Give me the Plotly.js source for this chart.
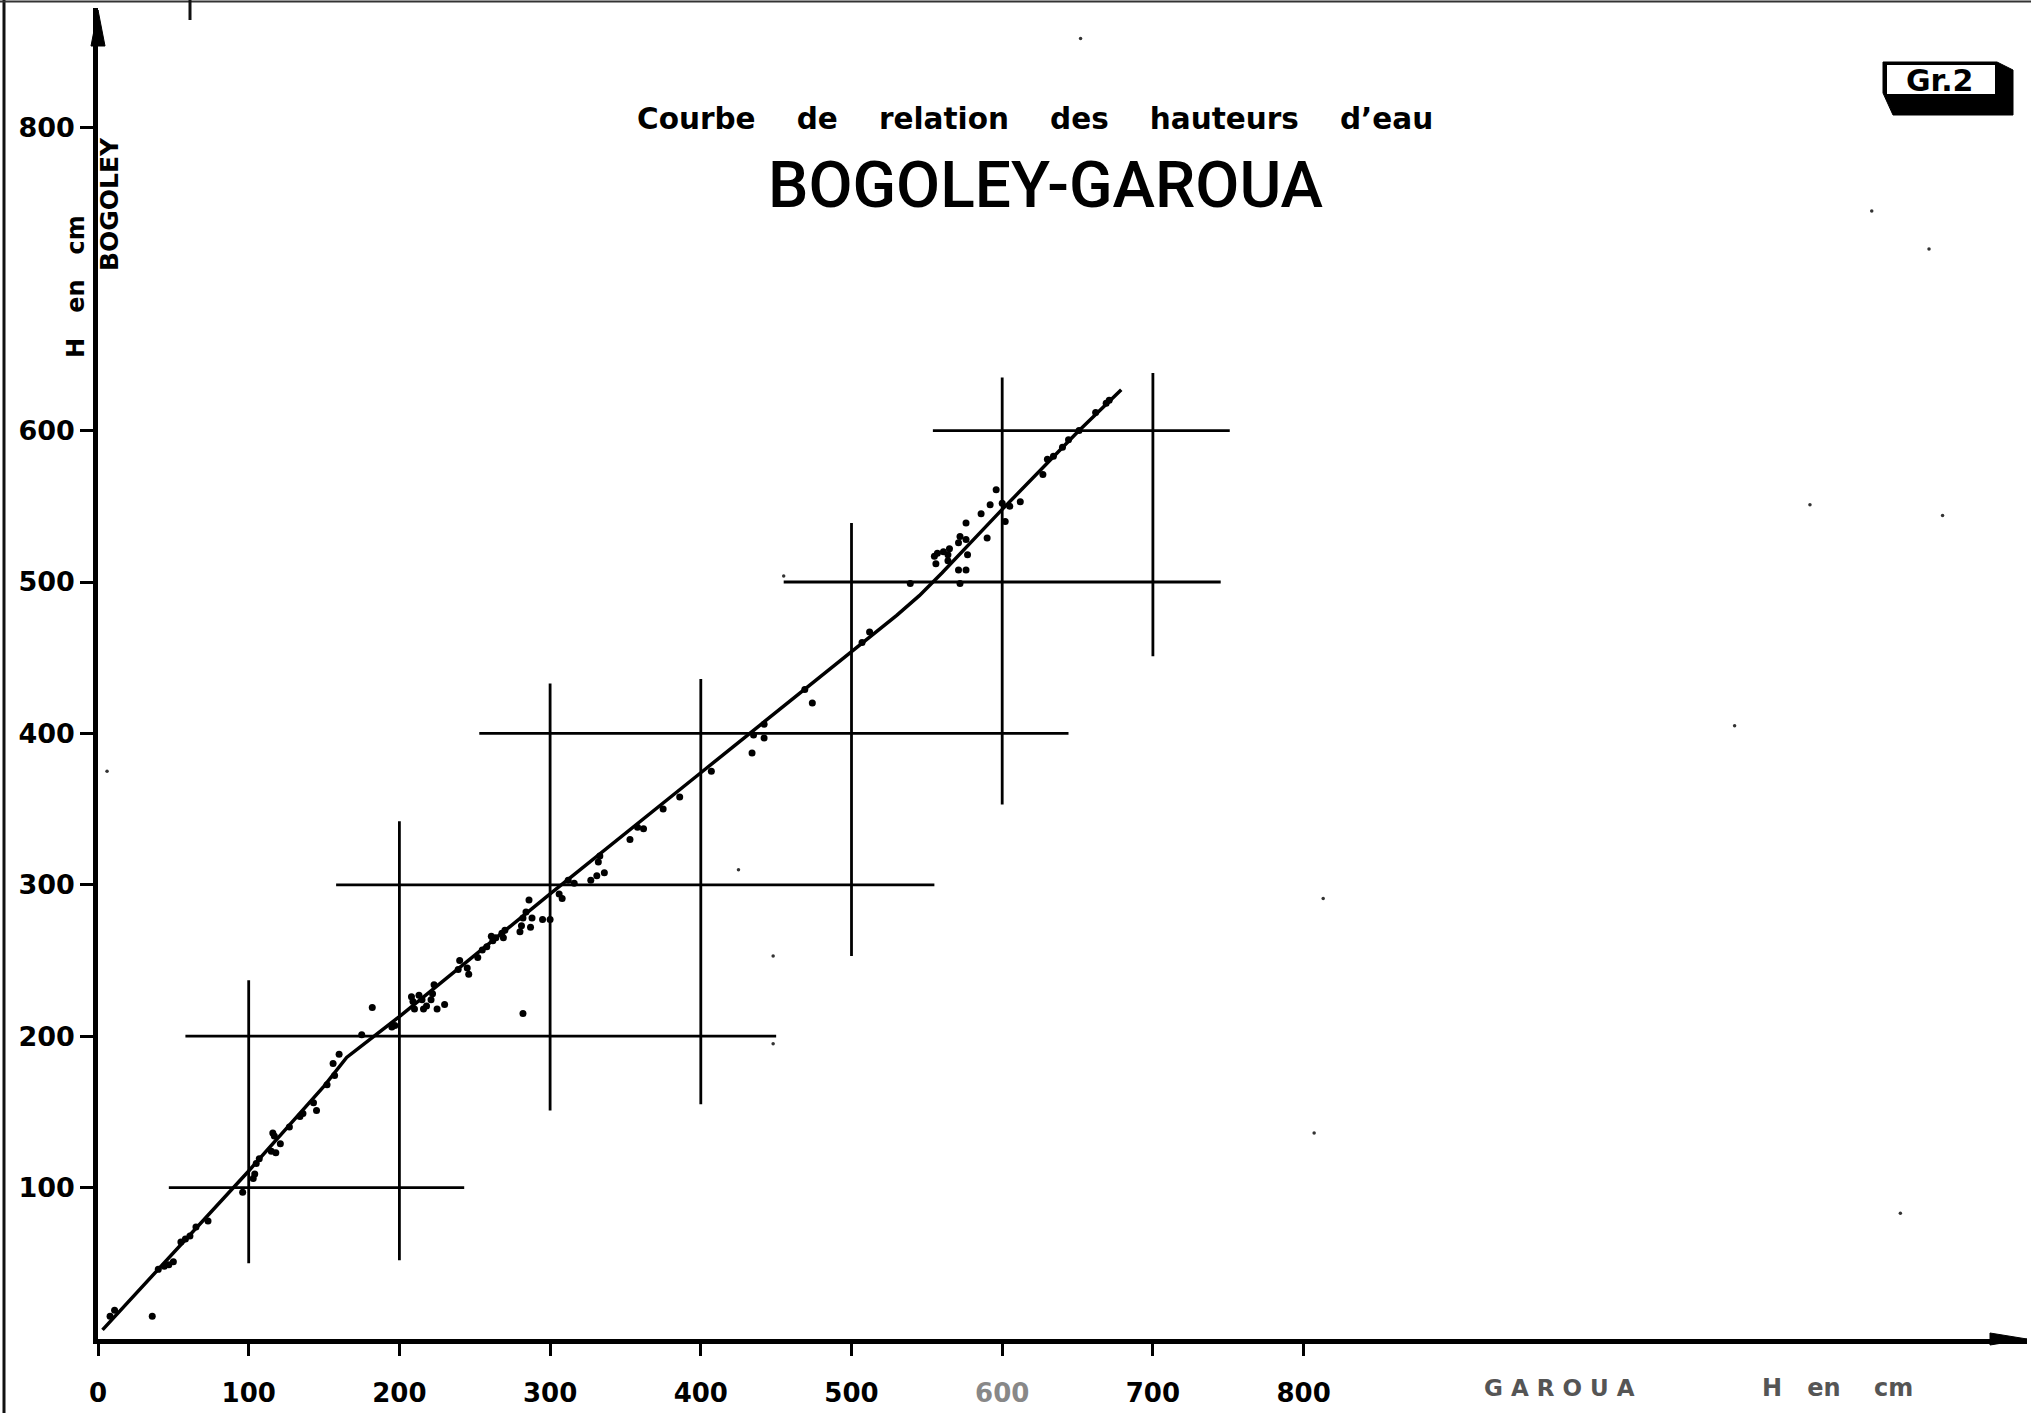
<!DOCTYPE html>
<html><head><meta charset="utf-8">
<script src="https://cdn.plot.ly/plotly-3.0.1.min.js"></script>
<style>html,body{margin:0;padding:0;background:#fff;} #chart{width:2031px;height:1413px;}</style>
</head><body><div id="chart"></div>
<script>
// ---- data ----
// rating curve Garoua (x) -> Bogoley (y), in cm
const curveX = [3, 50, 100, 150, 165, 200, 300, 400, 500, 530, 545, 560, 580, 600, 650, 679];
const curveY = [6, 57, 111, 167, 186, 213, 294, 374, 454, 478, 491, 506, 527, 548, 599, 627];

// observed pairs
const dotsX = [8, 11, 36, 40, 44, 47, 50, 55, 58, 61, 65, 73, 96, 103, 104, 105, 107, 115, 118, 116, 117, 121, 127, 134, 136, 143, 145, 152, 156, 157, 160, 175, 182, 195, 197,
  208, 209, 210, 213, 215, 216, 218, 221, 222, 225, 230, 223,
  239, 240, 245, 246, 252, 255, 258, 261, 262, 264, 268, 269, 270, 280, 281, 282, 284, 286, 288, 287, 295, 300, 282,
  306, 308, 312, 316, 327, 331, 336, 332, 333, 353, 358, 362, 375, 386,
  407, 434, 435, 442, 442, 469, 474, 507, 512, 539, 572,
  555, 556, 557, 561, 564, 565, 564, 571, 576, 571, 572, 576, 577, 576, 586, 592, 590, 602, 600, 605, 612, 596,
  627, 630, 634, 640, 644, 651, 662, 669, 671];
const dotsY = [15, 19, 15, 46, 48, 49, 51, 64, 66, 68, 74, 78, 97, 106, 109, 116, 119, 124, 123, 136, 134, 129, 140, 147, 149, 156, 151, 168, 182, 174, 188, 201, 219, 206, 207,
  226, 223, 218, 227, 224, 218, 220, 224, 228, 218, 221, 234,
  244, 250, 245, 241, 252, 257, 259, 266, 263, 265, 268, 265, 270, 269, 273, 278, 282, 290, 278, 272, 277, 277, 215,
  294, 291, 303, 301, 303, 306, 308, 315, 319, 330, 338, 337, 350, 358,
  375, 387, 399, 397, 406, 429, 420, 460, 467, 499, 499,
  517, 512, 519, 520, 518, 522, 514, 508, 508, 526, 530, 528, 518, 539, 545, 551, 529, 540, 552, 550, 553, 561,
  571, 581, 583, 589, 594, 600, 612, 618, 620];

// small stray marks of the original sheet
const specksX = [1136, 1086, 1196, 807, 6, 652, 813, 1177, 1215, 1224, 425, 448, 448, 455];
const specksY = [551, 405, 83, 136, 375, 859, 291, 745, 720, 544, 310, 253, 195, 504];

// reference crosses (partial grid lines)
const hSegY  = [100, 200, 300, 400, 500, 600];
const hSegX0 = [47, 58, 158, 253, 455, 554];
const hSegX1 = [243, 450, 555, 644, 745, 751];
const vSegX  = [100, 200, 300, 400, 500, 600, 700];
const vSegY0 = [50, 52, 151, 155, 253, 353, 451];
const vSegY1 = [237, 342, 433, 436, 539, 635, 638];

// tick labels
const xTickVals = [0, 100, 200, 300, 400, 500, 600, 700, 800];
const xTickText = ['0', '100', '200', '300', '400', '500', '<span style="color:#888">600</span>', '700', '800'];
const yTickVals = [100, 200, 300, 400, 500, 600, 800];
const yTickText = ['100', '200', '300', '400', '500', '600', '800'];

// ---- layout geometry ----
const W = 2031, H = 1413;
const M = {l: 98, r: 4, t: 8, b: 74};
const plotW = W - M.l - M.r, plotH = H - M.t - M.b;
const pxPerUnitX = 1.507, pxPerUnitY = 1.514;
const xMax = plotW / pxPerUnitX, yMax = plotH / pxPerUnitY;
const px = x => (x - M.l) / plotW;
const py = y => (H - M.b - y) / plotH;

const boldFont = (size, color) => ({family: 'DejaVu Sans', size: size, weight: 700, color: color || '#000'});

const shapes = [];
hSegY.forEach((y, i) => shapes.push({type: 'line', xref: 'x', yref: 'y', x0: hSegX0[i], x1: hSegX1[i], y0: y, y1: y,
  line: {color: '#000', width: 2.8}, layer: 'below'}));
vSegX.forEach((x, i) => shapes.push({type: 'line', xref: 'x', yref: 'y', x0: x, x1: x, y0: vSegY0[i], y1: vSegY1[i],
  line: {color: '#000', width: 2.8}, layer: 'below'}));

// arrow heads of the axes
shapes.push({type: 'path', xref: 'paper', yref: 'paper',
  path: `M ${px(91)} ${py(46)} L ${px(98)} ${py(10)} L ${px(105)} ${py(46)} Z`, fillcolor: '#000', line: {color: '#000', width: 1}});
shapes.push({type: 'path', xref: 'paper', yref: 'paper',
  path: `M ${px(1990)} ${py(1333)} L ${px(2027)} ${py(1339)} L ${px(1990)} ${py(1345)} Z`, fillcolor: '#000', line: {color: '#000', width: 1}});

// page edges of the scanned sheet
shapes.push({type: 'line', xref: 'paper', yref: 'paper', x0: px(4), x1: px(4), y0: py(0), y1: py(H), line: {color: '#111', width: 3}});
shapes.push({type: 'line', xref: 'paper', yref: 'paper', x0: px(0), x1: px(W), y0: py(1.5), y1: py(1.5), line: {color: '#333', width: 2}});
shapes.push({type: 'line', xref: 'paper', yref: 'paper', x0: px(190), x1: px(190), y0: py(0), y1: py(20), line: {color: '#111', width: 3}});

// "Gr.2" box
shapes.push({type: 'path', xref: 'paper', yref: 'paper',
  path: `M ${px(1883)} ${py(62)} L ${px(1997)} ${py(62)} L ${px(2013)} ${py(70)} L ${px(2013)} ${py(115)} L ${px(1893)} ${py(115)} L ${px(1883)} ${py(93)} Z`,
  fillcolor: '#000', line: {color: '#000', width: 1}});
shapes.push({type: 'rect', xref: 'paper', yref: 'paper', x0: px(1887), x1: px(1995), y0: py(94), y1: py(65),
  fillcolor: '#fff', line: {width: 0}});

const nb = '\u00a0';
const sp4 = nb + nb + nb + nb;
const annotations = [
  {text: ['Courbe', 'de', 'relation', 'des', 'hauteurs', 'd\u2019eau'].join(sp4), xref: 'paper', yref: 'paper',
   x: px(1035), y: py(119), xanchor: 'center', yanchor: 'middle', showarrow: false, font: boldFont(29.5)},
  {text: 'BOGOLEY-GAROUA', xref: 'paper', yref: 'paper', x: px(1045), y: py(185), xanchor: 'center', yanchor: 'middle',
   showarrow: false, font: {family: 'Roboto', size: 64, color: '#000', weight: 500}},
  {text: 'BOGOLEY', xref: 'paper', yref: 'paper', x: px(110), y: py(204), xanchor: 'center', yanchor: 'middle',
   textangle: -90, showarrow: false, font: boldFont(25)},
  {text: 'H' + nb + nb + nb + 'en' + nb + nb + nb + 'cm', xref: 'paper', yref: 'paper', x: px(76), y: py(287), xanchor: 'center', yanchor: 'middle',
   textangle: -90, showarrow: false, font: boldFont(24)},
  {text: 'G' + nb + 'A' + nb + 'R' + nb + 'O' + nb + 'U' + nb + 'A', xref: 'paper', yref: 'paper', x: px(1559), y: py(1388), xanchor: 'center', yanchor: 'middle',
   showarrow: false, font: boldFont(23, '#555')},
  {text: 'H' + nb + nb + nb + 'en' + nb + nb + nb + nb + 'cm', xref: 'paper', yref: 'paper', x: px(1837), y: py(1388), xanchor: 'center', yanchor: 'middle',
   showarrow: false, font: boldFont(24, '#555')},
  {text: 'Gr.2', xref: 'paper', yref: 'paper', x: px(1939), y: py(80), xanchor: 'center', yanchor: 'middle',
   showarrow: false, font: boldFont(30)}
];

const traces = [
  {type: 'scatter', mode: 'lines', x: curveX, y: curveY, line: {color: '#000', width: 3.5}, hoverinfo: 'skip'},
  {type: 'scatter', mode: 'markers', x: dotsX, y: dotsY, marker: {color: '#000', size: 7}},
  {type: 'scatter', mode: 'markers', x: specksX, y: specksY, marker: {color: '#333', size: 3.5}, hoverinfo: 'skip'}
];

const layout = {
  width: W, height: H,
  margin: {l: M.l, r: M.r, t: M.t, b: M.b, pad: 0},
  paper_bgcolor: '#fff', plot_bgcolor: '#fff',
  showlegend: false,
  xaxis: {range: [0, xMax], showgrid: false, zeroline: false, showline: true, linecolor: '#000', linewidth: 4.5,
    tickmode: 'array', tickvals: xTickVals, ticktext: xTickText, ticks: 'outside', ticklen: 12, tickwidth: 2.5, tickcolor: '#000',
    tickfont: boldFont(26), ticklabelstandoff: 15, fixedrange: true},
  yaxis: {range: [0, yMax], showgrid: false, zeroline: false, showline: true, linecolor: '#000', linewidth: 4.5,
    tickmode: 'array', tickvals: yTickVals, ticktext: yTickText, ticks: 'outside', ticklen: 13, tickwidth: 2.5, tickcolor: '#000',
    tickfont: boldFont(27), ticklabelstandoff: 0, fixedrange: true},
  shapes: shapes,
  annotations: annotations
};

Plotly.newPlot('chart', traces, layout, {displayModeBar: false, responsive: false});
</script></body></html>
